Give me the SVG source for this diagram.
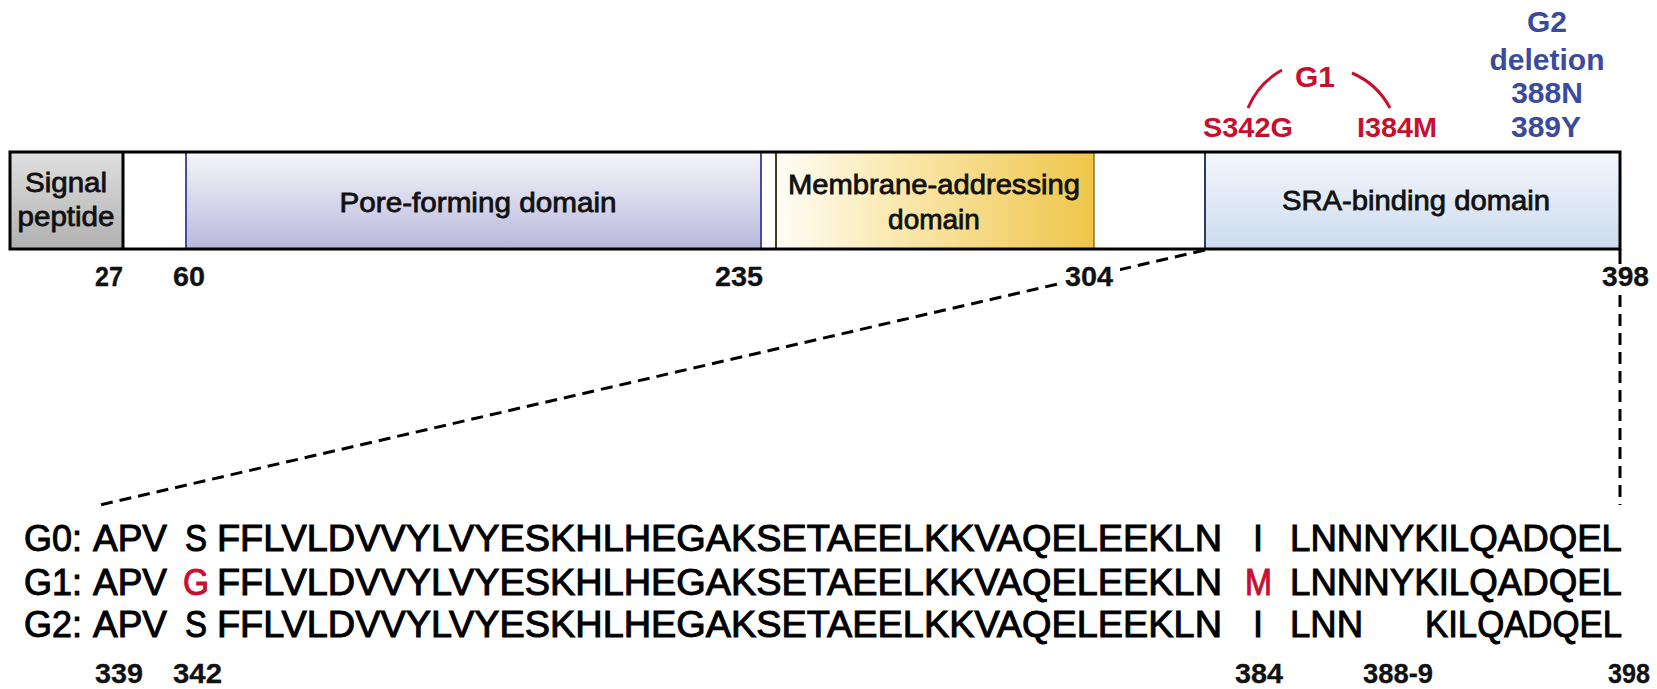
<svg xmlns="http://www.w3.org/2000/svg" width="1657" height="689" viewBox="0 0 1657 689">
  <defs>
    <linearGradient id="gSignal" x1="0" y1="0" x2="0" y2="1">
      <stop offset="0" stop-color="#e0e0e0"/>
      <stop offset="1" stop-color="#b0b0b0"/>
    </linearGradient>
    <linearGradient id="gPore" x1="0" y1="0" x2="0" y2="1">
      <stop offset="0" stop-color="#f6f6fb"/>
      <stop offset="1" stop-color="#b8b8dc"/>
    </linearGradient>
    <linearGradient id="gMem" x1="0" y1="0" x2="1" y2="0">
      <stop offset="0" stop-color="#fffdf6"/>
      <stop offset="0.35" stop-color="#faeab4"/>
      <stop offset="1" stop-color="#efc64a"/>
    </linearGradient>
    <linearGradient id="gSra" x1="0" y1="0" x2="0" y2="1">
      <stop offset="0" stop-color="#f3f7fc"/>
      <stop offset="1" stop-color="#cddbee"/>
    </linearGradient>
  </defs>
  <style>
    .lbl { font-family: "Liberation Sans", Arial, sans-serif; font-size: 28px; fill: #111; stroke: #111; stroke-width: 0.8px; }
    .num { font-family: "Liberation Sans", Arial, sans-serif; font-size: 28px; font-weight: bold; fill: #111; stroke: #111; stroke-width: 0.3px; }
    .seq { font-family: "Liberation Sans", Arial, sans-serif; font-size: 36px; fill: #000; stroke: #000; stroke-width: 1px; }
    .red { fill: #c8102e; stroke: #c8102e; }
    .mut { font-family: "Liberation Sans", Arial, sans-serif; font-size: 28px; font-weight: bold; fill: #c8102e; }
    .del { font-family: "Liberation Sans", Arial, sans-serif; font-size: 30px; font-weight: bold; fill: #3a4a9c; text-anchor: middle; }
    .dash { fill: none; stroke: #000; stroke-width: 3; stroke-dasharray: 12 7; }
    .mid { text-anchor: middle; }
  </style>

  <!-- protein bar with domains -->
  <g id="bar">
    <rect x="10" y="152" width="1610" height="97" fill="#fff"/>
  </g>
  <g id="signal-peptide">
    <rect x="10" y="152" width="113" height="97" fill="url(#gSignal)"/>
    <line x1="123" y1="152" x2="123" y2="249" stroke="#000" stroke-width="3"/>
    <text class="lbl mid" x="66" y="192" textLength="82" lengthAdjust="spacingAndGlyphs">Signal</text>
    <text class="lbl mid" x="66" y="226" textLength="97" lengthAdjust="spacingAndGlyphs">peptide</text>
  </g>
  <g id="pore-forming">
    <rect x="186" y="152" width="575" height="97" fill="url(#gPore)"/>
    <line x1="186" y1="152" x2="186" y2="249" stroke="#4a4a9e" stroke-width="2"/>
    <line x1="761" y1="152" x2="761" y2="249" stroke="#4a4a9e" stroke-width="2"/>
    <text class="lbl mid" x="478" y="212" textLength="277" lengthAdjust="spacingAndGlyphs">Pore-forming domain</text>
  </g>
  <g id="membrane-addressing">
    <rect x="776" y="152" width="318" height="97" fill="url(#gMem)"/>
    <line x1="776" y1="152" x2="776" y2="249" stroke="#4a3a1c" stroke-width="2"/>
    <line x1="1094" y1="152" x2="1094" y2="249" stroke="#8a7228" stroke-width="1.5"/>
    <text class="lbl mid" x="934" y="194" textLength="292" lengthAdjust="spacingAndGlyphs">Membrane-addressing</text>
    <text class="lbl mid" x="934" y="229">domain</text>
  </g>
  <g id="sra-binding">
    <rect x="1205" y="152" width="415" height="97" fill="url(#gSra)"/>
    <line x1="1205" y1="152" x2="1205" y2="249" stroke="#2a3c66" stroke-width="2"/>
    <text class="lbl mid" x="1416" y="210" textLength="268" lengthAdjust="spacingAndGlyphs">SRA-binding domain</text>
  </g>
  <g id="bar-outline">
    <rect x="10" y="152" width="1610" height="97" fill="none" stroke="#000" stroke-width="3"/>
  </g>

  <!-- connectors: zoom lines from the SRA-binding domain to the sequence -->
  <g id="connectors">
    <line class="dash" x1="1205" y1="250" x2="100" y2="505"/>
    <line class="dash" x1="1620" y1="295" x2="1620" y2="505"/>
    <line x1="1620" y1="249" x2="1620" y2="264" stroke="#000" stroke-width="3"/>
  </g>

  <!-- residue positions on the bar -->
  <g id="bar-positions">
    <text class="num" x="95" y="286" textLength="28" lengthAdjust="spacingAndGlyphs">27</text>
    <text class="num" x="173" y="286" textLength="32" lengthAdjust="spacingAndGlyphs">60</text>
    <text class="num" x="715" y="286" textLength="48" lengthAdjust="spacingAndGlyphs">235</text>
    <rect x="1058" y="262" width="62" height="30" fill="#fff"/>
    <text class="num" x="1065" y="286" textLength="48" lengthAdjust="spacingAndGlyphs">304</text>
    <text class="num" x="1602" y="286" textLength="47" lengthAdjust="spacingAndGlyphs">398</text>
  </g>

  <!-- G1 point mutations -->
  <g id="g1-mutations">
    <path d="M1248,108 A78,78 0 0,1 1282,70" fill="none" stroke="#c8102e" stroke-width="3"/>
    <path d="M1352,73 A78,78 0 0,1 1390,108" fill="none" stroke="#c8102e" stroke-width="3"/>
    <text class="mut mid" x="1315" y="87" style="font-size:30px">G1</text>
    <text class="mut" x="1203" y="137" textLength="90" lengthAdjust="spacingAndGlyphs">S342G</text>
    <text class="mut" x="1357" y="137" textLength="80" lengthAdjust="spacingAndGlyphs">I384M</text>
  </g>

  <!-- G2 deletion -->
  <g id="g2-deletion">
    <text class="del" x="1547" y="32">G2</text>
    <text class="del" x="1547" y="70">deletion</text>
    <text class="del" x="1547" y="103">388N</text>
    <text class="del" x="1546" y="137">389Y</text>
  </g>

  <!-- aligned sequences 339-398 -->
  <g id="seq-g0">
    <text class="seq" x="24" y="551" textLength="58" lengthAdjust="spacingAndGlyphs">G0:</text>
    <text class="seq" x="93" y="551" textLength="74" lengthAdjust="spacingAndGlyphs">APV</text>
    <text class="seq" x="185" y="551" textLength="22" lengthAdjust="spacingAndGlyphs">S</text>
    <text class="seq" x="217" y="551" textLength="1005" lengthAdjust="spacingAndGlyphs">FFLVLDVVYLVYESKHLHEGAKSETAEELKKVAQELEEKLN</text>
    <text class="seq mid" x="1258" y="551">I</text>
    <text class="seq" x="1290" y="551" textLength="332" lengthAdjust="spacingAndGlyphs">LNNNYKILQADQEL</text>
  </g>
  <g id="seq-g1">
    <text class="seq" x="24" y="595" textLength="58" lengthAdjust="spacingAndGlyphs">G1:</text>
    <text class="seq" x="93" y="595" textLength="74" lengthAdjust="spacingAndGlyphs">APV</text>
    <text class="seq red" x="183" y="595" textLength="26" lengthAdjust="spacingAndGlyphs">G</text>
    <text class="seq" x="217" y="595" textLength="1005" lengthAdjust="spacingAndGlyphs">FFLVLDVVYLVYESKHLHEGAKSETAEELKKVAQELEEKLN</text>
    <text class="seq red" x="1245" y="595" textLength="27" lengthAdjust="spacingAndGlyphs">M</text>
    <text class="seq" x="1290" y="595" textLength="332" lengthAdjust="spacingAndGlyphs">LNNNYKILQADQEL</text>
  </g>
  <g id="seq-g2">
    <text class="seq" x="24" y="637" textLength="58" lengthAdjust="spacingAndGlyphs">G2:</text>
    <text class="seq" x="93" y="637" textLength="74" lengthAdjust="spacingAndGlyphs">APV</text>
    <text class="seq" x="185" y="637" textLength="22" lengthAdjust="spacingAndGlyphs">S</text>
    <text class="seq" x="217" y="637" textLength="1005" lengthAdjust="spacingAndGlyphs">FFLVLDVVYLVYESKHLHEGAKSETAEELKKVAQELEEKLN</text>
    <text class="seq mid" x="1258" y="637">I</text>
    <text class="seq" x="1290" y="637" textLength="73" lengthAdjust="spacingAndGlyphs">LNN</text>
    <text class="seq" x="1425" y="637" textLength="197" lengthAdjust="spacingAndGlyphs">KILQADQEL</text>
  </g>

  <!-- residue positions under the sequences -->
  <g id="seq-positions">
    <text class="num" x="95" y="683" textLength="48" lengthAdjust="spacingAndGlyphs">339</text>
    <text class="num" x="173" y="683" textLength="49" lengthAdjust="spacingAndGlyphs">342</text>
    <text class="num" x="1235" y="683" textLength="48" lengthAdjust="spacingAndGlyphs">384</text>
    <text class="num" x="1363" y="683" textLength="70" lengthAdjust="spacingAndGlyphs">388-9</text>
    <text class="num" x="1608" y="683" textLength="42" lengthAdjust="spacingAndGlyphs">398</text>
  </g>
</svg>
